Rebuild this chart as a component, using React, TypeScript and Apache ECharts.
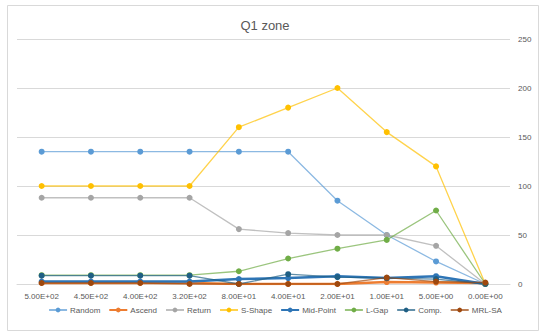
import React, { useEffect, useRef } from "react";
import * as echarts from "echarts";

const categories = ["5.00E+02", "4.50E+02", "4.00E+02", "3.20E+02", "8.00E+01", "4.00E+01", "2.00E+01", "1.00E+01", "5.00E+00", "0.00E+00"];
const random = [135, 135, 135, 135, 135, 135, 85, 50, 23, 0];
const ascend = [1, 1, 1, 1, 0, 0, 0, 2, 1.5, 1];
const returnS = [88, 88, 88, 88, 56, 52, 50, 50, 39, 0];
const sShape = [100, 100, 100, 100, 160, 180, 200, 155, 120, 0];
const midPoint = [2.5, 2.5, 2.5, 2.5, 5, 6, 8, 6, 8, 0];
const lGap = [9, 9, 9, 9, 13, 26, 36, 45, 75, 0];
const comp = [8.5, 8.5, 8.5, 8.5, 0, 10, 7, 6, 5, 0];
const mrlSa = [1, 1, 1, 0, 0, 0, 0, 6.5, 2.5, 1.5];
const yTicks = { min: 0, max: 250, interval: 50 };

const seriesDefs = [
  { name: "Random", data: random, color: "#5B9BD5", width: 1.3 },
  { name: "Ascend", data: ascend, color: "#ED7D31", width: 2.5 },
  { name: "Return", data: returnS, color: "#A5A5A5", width: 1.3 },
  { name: "S-Shape", data: sShape, color: "#FFC000", width: 1.3 },
  { name: "Mid-Point", data: midPoint, color: "#2E75B6", width: 2.5 },
  { name: "L-Gap", data: lGap, color: "#70AD47", width: 1.3 },
  { name: "Comp.", data: comp, color: "#1F5F84", width: 1.3 },
  { name: "MRL-SA", data: mrlSa, color: "#9E480E", width: 1.3 },
];

export default function App() {
  const ref = useRef<HTMLDivElement>(null);
  useEffect(() => {
    const chart = echarts.init(ref.current!, undefined, { renderer: "svg" });
    const font = "'Liberation Sans', Arial, sans-serif";
    chart.setOption({
      animation: false,
      backgroundColor: "#ffffff",
      textStyle: { fontFamily: font },
      title: {
        text: "Q1 zone",
        left: 260,
        textAlign: "center",
        top: 14,
        textStyle: { fontSize: 13, fontWeight: "normal", color: "#595959", fontFamily: font },
      },
      graphic: [
        {
          type: "rect",
          shape: { x: 7.5, y: 5.5, width: 531, height: 325 },
          style: { fill: "none", stroke: "#D9D9D9", lineWidth: 1 },
          silent: true,
        },
      ],
      legend: {
        bottom: 17,
        left: "center",
        itemWidth: 18,
        itemHeight: 6,
        itemGap: 8,
        textStyle: { fontSize: 8, color: "#595959", fontFamily: font, padding: [0, 0, 0, -2] },
        data: seriesDefs.map((s) => s.name),
      },
      grid: { left: 17, right: 40, top: 39, bottom: 52 },
      xAxis: {
        type: "category",
        data: categories,
        boundaryGap: true,
        axisLine: { show: true, lineStyle: { color: "#D9D9D9" } },
        axisTick: { show: false },
        axisLabel: { fontSize: 8, color: "#595959", margin: 8, interval: 0, fontFamily: font },
      },
      yAxis: {
        type: "value",
        position: "right",
        min: yTicks.min,
        max: yTicks.max,
        interval: yTicks.interval,
        axisLine: { show: false },
        axisTick: { show: false },
        axisLabel: { fontSize: 8, color: "#595959", margin: 8, fontFamily: font },
        splitLine: { lineStyle: { color: "#D9D9D9", width: 1 } },
      },
      series: seriesDefs.map((s) => ({
        name: s.name,
        type: "line",
        data: s.data,
        symbol: "circle",
        symbolSize: 6,
        itemStyle: { color: s.color },
        lineStyle: { color: s.color, width: s.width, opacity: s.width > 2 ? 1 : 0.7 },
      })),
    });
    return () => chart.dispose();
  }, []);
  return <div ref={ref} style={{ position: "absolute", left: 0, top: 0, width: 550, height: 336 }} />;
}
